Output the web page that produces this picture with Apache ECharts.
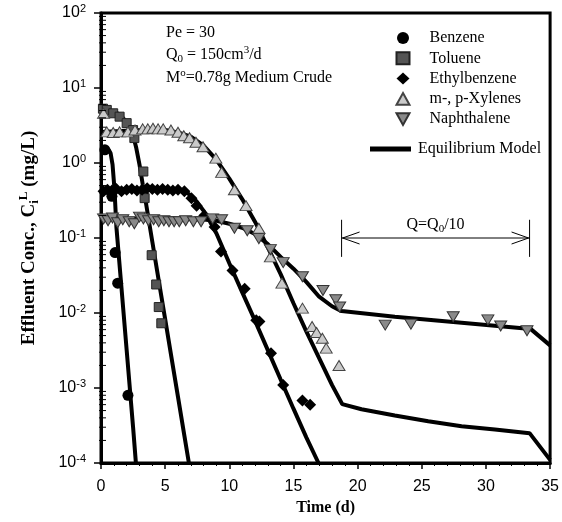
<!DOCTYPE html>
<html><head><meta charset="utf-8">
<script src="https://cdn.jsdelivr.net/npm/echarts@6/dist/echarts.min.js"></script>
<style>html,body{margin:0;padding:0;background:#fff}#c{width:562px;height:522px}</style>
</head><body><div id="c"></div>
<script>
// ---- axis ticks ----
const xTicks = [0, 5, 10, 15, 20, 25, 30, 35];
const yExponents = [-4, -3, -2, -1, 0, 1, 2];
const yMinorMultipliers = [2, 3, 4, 5, 6, 7, 8, 9];

// ---- measured data [time (d), conc (mg/L)] ----
const benzene = [[0.3,1.5],[0.85,0.36],[1.1,0.064],[1.3,0.025],[2.1,0.0008]];
const toluene = [[0.15,5.3],[0.45,5.1],[0.95,4.6],[1.45,4.15],[2.0,3.4],[2.5,2.75],[2.6,2.15],[3.3,0.77],[3.4,0.34],[3.95,0.059],[4.3,0.024],[4.5,0.012],[4.7,0.0073]];
const ethylbenzene = [[0.2,0.42],[0.5,0.44],[0.85,0.43],[1.2,0.45],[1.6,0.42],[2.0,0.44],[2.4,0.45],[2.8,0.43],[3.2,0.44],[3.6,0.46],[4.0,0.45],[4.4,0.44],[4.8,0.45],[5.2,0.44],[5.6,0.43],[6.0,0.44],[6.5,0.42],[7.05,0.34],[7.45,0.27],[8.05,0.2],[8.85,0.14],[9.35,0.066],[10.25,0.037],[11.2,0.021],[12.1,0.008],[12.35,0.0077],[13.25,0.0029],[14.2,0.0011],[15.7,0.00068],[16.3,0.0006]];
const xylenes = [[0.2,4.6],[0.45,2.6],[0.95,2.55],[1.45,2.6],[2.1,2.6],[2.65,2.75],[3.25,2.85],[3.65,2.85],[4.05,2.9],[4.45,2.85],[4.85,2.85],[5.45,2.75],[6.0,2.57],[6.45,2.31],[6.9,2.17],[7.4,1.89],[7.95,1.65],[8.95,1.16],[9.4,0.75],[10.4,0.44],[11.3,0.27],[12.3,0.135],[13.2,0.056],[14.1,0.025],[15.7,0.0116],[16.45,0.0066],[16.8,0.0055],[17.25,0.0046],[17.55,0.0034],[18.55,0.002]];
const naphthalene = [[0.2,0.18],[0.55,0.17],[0.9,0.185],[1.3,0.16],[1.7,0.175],[2.2,0.165],[2.6,0.155],[3.0,0.19],[3.3,0.18],[3.7,0.17],[4.1,0.175],[4.5,0.165],[4.9,0.17],[5.3,0.165],[5.7,0.165],[6.1,0.165],[6.6,0.17],[7.2,0.165],[7.8,0.165],[8.7,0.18],[9.4,0.175],[10.4,0.135],[11.4,0.125],[12.3,0.098],[13.2,0.07],[14.2,0.047],[15.7,0.0305],[17.3,0.02],[18.3,0.015],[18.6,0.012],[22.15,0.0069],[24.15,0.0071],[27.45,0.0089],[30.15,0.0081],[31.15,0.0067],[33.2,0.0058]];

// ---- equilibrium model curves ----
const benzeneModel = [[0,1.5],[0.6,1.5],[0.75,1.35],[0.9,0.95],[1.05,0.45],[1.2,0.14],[1.5,0.034],[2.0,0.0032],[2.5,0.0003],[2.72,0.0001]];
const tolueneModel = [[0,5.1],[1.0,4.85],[1.5,4.4],[2.0,3.5],[2.25,2.95],[2.5,2.35],[2.75,1.58],[3.0,0.95],[3.25,0.52],[3.5,0.295],[4.0,0.089],[4.5,0.027],[5.0,0.0083],[5.5,0.0025],[6.0,0.00076],[6.5,0.00023],[6.85,0.0001]];
const ethylbenzeneModel = [[0,0.45],[5,0.45],[6,0.44],[6.5,0.42],[7,0.37],[7.5,0.3],[8,0.23],[8.5,0.165],[9,0.115],[10,0.046],[11,0.019],[12,0.0079],[13,0.0032],[14,0.0013],[15,0.00053],[16,0.00022],[16.95,0.0001]];
const xylenesModel = [[0,2.6],[2,2.7],[4,2.8],[5,2.75],[6,2.55],[7,2.25],[8,1.7],[9,1.1],[10,0.62],[11,0.33],[12,0.165],[13,0.075],[14,0.033],[15,0.0135],[16,0.0057],[17,0.0025],[18,0.0011],[18.8,0.00061],[20.3,0.00052],[22.9,0.00043],[25.5,0.00036],[28.1,0.00031],[30.7,0.00028],[33.4,0.00025],[35,0.00011]];
const naphthaleneModel = [[0,0.18],[6,0.18],[8,0.177],[9,0.17],[10,0.155],[11,0.137],[12,0.113],[13,0.083],[14,0.056],[15,0.039],[16,0.026],[17,0.0165],[18,0.0123],[18.75,0.0106],[22.9,0.0089],[28.1,0.0074],[33.5,0.0061],[35,0.0037]];

// ---- annotation (reduced flow period) ----
const flowPeriod = [18.75, 33.4];
const flowArrowY = 0.1;
const flowBarY = [0.056, 0.175];

const serif = 'Liberation Serif';
const sans = 'Liberation Sans';

const yMinorTicks = [];
yExponents.slice(0, -1).forEach(e => yMinorMultipliers.forEach(m => yMinorTicks.push([0, m * Math.pow(10, e)])));

const chart = echarts.init(document.getElementById('c'), null, {renderer: 'canvas'});

function modelSeries(data) {
  return {name: 'Equilibrium Model', type: 'line', data, showSymbol: false, symbol: 'none',
    lineStyle: {color: '#000', width: 4}, itemStyle: {color: '#000'}, z: 2, silent: true, animation: false};
}
function scatter(name, data, symbol, size, color, border, rotate) {
  return {name, type: 'scatter', data, symbol, symbolSize: size, symbolRotate: rotate || 0,
    itemStyle: {color, borderColor: border || color, borderWidth: border ? 1 : 0, opacity: 1}, z: 3, animation: false};
}
const subRich = {fontFamily: serif, fontSize: 11, lineHeight: 8, verticalAlign: 'bottom', color: '#000'};
const supRich = {fontFamily: serif, fontSize: 11, lineHeight: 8, verticalAlign: 'top', color: '#000'};
const baseRich = {fontFamily: serif, fontSize: 16, lineHeight: 20, color: '#000'};
const legendText = {fontFamily: serif, fontSize: 16, color: '#000'};

const option = {
  backgroundColor: '#fff',
  animation: false,
  grid: {left: 101, right: 10, top: 13, bottom: 59, show: true, borderColor: '#000', borderWidth: 3, backgroundColor: 'transparent'},
  xAxis: {
    type: 'value', min: xTicks[0], max: xTicks[xTicks.length - 1], interval: 5,
    axisLine: {show: true, lineStyle: {color: '#000', width: 3}},
    axisTick: {show: true, length: 6, lineStyle: {color: '#000', width: 1.5}},
    minorTick: {show: true, splitNumber: 5, length: 3, lineStyle: {color: '#000', width: 1}},
    splitLine: {show: false},
    axisLabel: {fontFamily: sans, fontSize: 16, color: '#000', margin: 16},
    name: 'Time (d)', nameLocation: 'middle', nameGap: 35,
    nameTextStyle: {fontFamily: serif, fontWeight: 'bold', fontSize: 16, color: '#000'}
  },
  yAxis: {
    type: 'log', logBase: 10, min: Math.pow(10, yExponents[0]), max: Math.pow(10, yExponents[yExponents.length - 1]), interval: 1,
    axisLine: {show: true, lineStyle: {color: '#000', width: 3}},
    axisTick: {show: true, length: 7, lineStyle: {color: '#000', width: 1.5}},
    splitLine: {show: false},
    axisLabel: {
      margin: 15,
      formatter: v => '{b|10}{s|' + Math.round(Math.log10(v)) + '}',
      rich: {
        b: {fontFamily: sans, fontSize: 16, lineHeight: 20, color: '#000'},
        s: {fontFamily: sans, fontSize: 11, lineHeight: 12, verticalAlign: 'top', color: '#000'}
      }
    },
    name: '{n|Effluent Conc., C}{sub|i}{sup|L}{n| (mg/L)}', nameLocation: 'middle', nameGap: 60, nameRotate: 90,
    nameTextStyle: {
      rich: {
        n: {fontFamily: serif, fontSize: 19, lineHeight: 24, fontWeight: 'bold', color: '#000'},
        sub: {fontFamily: serif, fontSize: 13, lineHeight: 10, verticalAlign: 'bottom', fontWeight: 'bold', color: '#000'},
        sup: {fontFamily: serif, fontSize: 13, lineHeight: 10, verticalAlign: 'top', fontWeight: 'bold', color: '#000'}
      }
    }
  },
  legend: [
    {
      data: [
        {name: 'Benzene', icon: 'circle'},
        {name: 'Toluene', icon: 'rect'},
        {name: 'Ethylbenzene', icon: 'diamond'},
        {name: 'm-, p-Xylenes', icon: 'path://M5,0 L10,9 L0,9 Z'},
        {name: 'Naphthalene', icon: 'path://M0,0 L10,0 L5,9 Z'}
      ],
      orient: 'vertical', left: 395.5, top: 30, padding: 0, itemWidth: 13, itemHeight: 12, itemGap: 4.3,
      selectedMode: false,
      textStyle: Object.assign({padding: [0, 0, 0, 15]}, legendText)
    },
    {
      data: [{name: 'Equilibrium Model', icon: 'rect', itemStyle: {color: '#000', borderWidth: 0}}],
      left: 370, top: 141, padding: 0, itemWidth: 41, itemHeight: 5, selectedMode: false,
      textStyle: Object.assign({padding: [0, 0, 0, 2]}, legendText)
    }
  ],
  graphic: [
    {type: 'text', x: 166, y: 33, style: {text: 'Pe = 30', fontFamily: serif, fontSize: 16, fill: '#000', verticalAlign: 'middle'}},
    {type: 'text', x: 166, y: 55, style: {text: '{b|Q}{sub|0}{b| = 150cm}{sup|3}{b|/d}', verticalAlign: 'middle', rich: {b: baseRich, sub: subRich, sup: supRich}}},
    {type: 'text', x: 166, y: 78, style: {text: '{b|M}{sup|o}{b|=0.78g Medium Crude}', verticalAlign: 'middle', rich: {b: baseRich, sup: supRich}}}
  ],
  series: [
    modelSeries(benzeneModel),
    modelSeries(tolueneModel),
    modelSeries(ethylbenzeneModel),
    modelSeries(xylenesModel),
    modelSeries(naphthaleneModel),
    scatter('Benzene', benzene, 'circle', 11, '#000', null),
    scatter('Toluene', toluene, 'rect', 9, '#555', '#222'),
    scatter('Ethylbenzene', ethylbenzene, 'diamond', 12, '#000', null),
    scatter('m-, p-Xylenes', xylenes, 'triangle', [12, 10], '#cacaca', '#444'),
    scatter('Naphthalene', naphthalene, 'triangle', [12, 10], '#8a8a8a', '#333', 180),
    {
      type: 'custom', silent: true, z: 4, clip: false, animation: false,
      data: yMinorTicks,
      renderItem: (params, api) => {
        const p = api.coord([api.value(0), api.value(1)]);
        return {type: 'line', shape: {x1: p[0] - 2, y1: p[1], x2: p[0] + 5, y2: p[1]}, style: {stroke: '#000', lineWidth: 1}};
      }
    },
    {
      type: 'custom', silent: true, z: 4, clip: false, animation: false,
      data: [[flowPeriod[0], flowPeriod[1], flowArrowY, flowBarY[0], flowBarY[1]]],
      renderItem: (params, api) => {
        const a = api.coord([api.value(0), api.value(2)]);
        const b = api.coord([api.value(1), api.value(2)]);
        const lo = api.coord([api.value(0), api.value(3)])[1];
        const hi = api.coord([api.value(0), api.value(4)])[1];
        const st = {stroke: '#000', lineWidth: 1, fill: null};
        return {type: 'group', children: [
          {type: 'line', shape: {x1: a[0], y1: a[1], x2: b[0], y2: b[1]}, style: st},
          {type: 'line', shape: {x1: a[0], y1: hi, x2: a[0], y2: lo}, style: st},
          {type: 'line', shape: {x1: b[0], y1: hi, x2: b[0], y2: lo}, style: st},
          {type: 'polyline', shape: {points: [[a[0] + 18, a[1] - 6], [a[0] + 1, a[1]], [a[0] + 18, a[1] + 6]]}, style: st},
          {type: 'polyline', shape: {points: [[b[0] - 18, b[1] - 6], [b[0] - 1, b[1]], [b[0] - 18, b[1] + 6]]}, style: st},
          {type: 'text', x: (a[0] + b[0]) / 2, y: a[1] - 13, style: {text: '{b|Q=Q}{sub|0}{b|/10}', align: 'center', verticalAlign: 'middle', rich: {b: baseRich, sub: subRich}}}
        ]};
      }
    }
  ]
};
chart.setOption(option);
</script></body></html>
